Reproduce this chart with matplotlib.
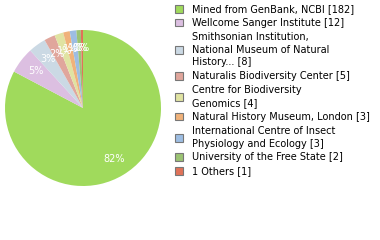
import matplotlib
matplotlib.use("Agg")
import matplotlib.pyplot as plt
import numpy as np

labels = ["Mined from GenBank, NCBI", "Wellcome Sanger Institute",
          "Smithsonian Institution,\nNational Museum of Natural\nHistory...",
          "Naturalis Biodiversity Center", "Centre for Biodiversity\nGenomics",
          "Natural History Museum, London", "International Centre of Insect\nPhysiology and Ecology",
          "University of the Free State", "1 Others"]
counts = [182, 12, 8, 5, 4, 3, 3, 2, 1]
colors = ["#a0da5c", "#dcbfe1", "#cbd9e4", "#e0a69c", "#e0e3a2", "#f0b27a",
          "#9dbde2", "#9bc373", "#e07258"]

total = sum(counts)
fig = plt.figure(figsize=(3.8, 2.4), dpi=100)
ax = fig.add_axes([5/380, 1-186/240, 156/380, 156/240])
wedges, texts, autotexts = ax.pie(
    counts, colors=colors, startangle=90, counterclock=False,
    autopct=lambda p: f"{int(np.floor(p + 1e-9))}%", pctdistance=0.77,
    textprops=dict(color="white", fontsize=7),
    wedgeprops=dict(linewidth=0))
ax.set_aspect("equal")
ax.set_xlim(-1, 1)
ax.set_ylim(-1, 1)

leg_labels = [f"{l} [{c}]" for l, c in zip(labels, counts)]
leg = fig.legend(wedges, leg_labels, loc="upper left",
                 bbox_to_anchor=(175/380, 1-4/240), frameon=False,
                 fontsize=7, handlelength=0.85, handleheight=0.85,
                 handletextpad=0.9, labelspacing=0.4, borderpad=0,
                 borderaxespad=0)
for t in leg.get_texts():
    t.set_linespacing(1.35)
for h in leg.legend_handles:
    h.set_edgecolor("#777777")
    h.set_linewidth(0.8)

fig.savefig("out.png", dpi=100)
